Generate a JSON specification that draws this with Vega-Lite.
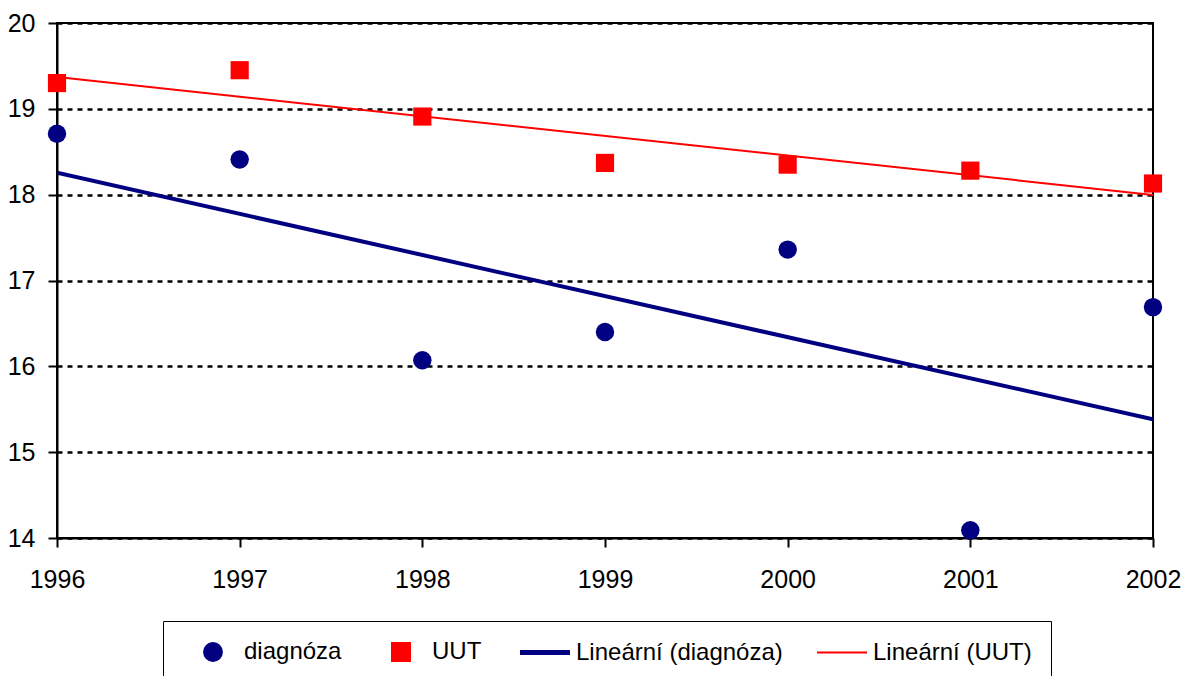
{
  "$schema": "https://vega.github.io/schema/vega-lite/v6.json",
  "width": 1096,
  "height": 515,
  "autosize": "none",
  "padding": {"left": 57, "top": 23, "right": 31, "bottom": 138},
  "background": "white",
  "config": {
    "view": {"stroke": "black", "strokeWidth": 2},
    "font": "Liberation Sans",
    "axis": {"labelFont": "Liberation Sans", "labelColor": "black"},
    "legend": {"labelFont": "Liberation Sans"}
  },
  "data": {
    "values": [
      {"year": 1996, "value": 18.71, "series": "diagnóza", "trend": "Lineární (diagnóza)"},
      {"year": 1997, "value": 18.41, "series": "diagnóza", "trend": "Lineární (diagnóza)"},
      {"year": 1998, "value": 16.07, "series": "diagnóza", "trend": "Lineární (diagnóza)"},
      {"year": 1999, "value": 16.40, "series": "diagnóza", "trend": "Lineární (diagnóza)"},
      {"year": 2000, "value": 17.36, "series": "diagnóza", "trend": "Lineární (diagnóza)"},
      {"year": 2001, "value": 14.09, "series": "diagnóza", "trend": "Lineární (diagnóza)"},
      {"year": 2002, "value": 16.69, "series": "diagnóza", "trend": "Lineární (diagnóza)"},
      {"year": 1996, "value": 19.30, "series": "UUT", "trend": "Lineární (UUT)"},
      {"year": 1997, "value": 19.45, "series": "UUT", "trend": "Lineární (UUT)"},
      {"year": 1998, "value": 18.91, "series": "UUT", "trend": "Lineární (UUT)"},
      {"year": 1999, "value": 18.37, "series": "UUT", "trend": "Lineární (UUT)"},
      {"year": 2000, "value": 18.35, "series": "UUT", "trend": "Lineární (UUT)"},
      {"year": 2001, "value": 18.28, "series": "UUT", "trend": "Lineární (UUT)"},
      {"year": 2002, "value": 18.13, "series": "UUT", "trend": "Lineární (UUT)"}
    ]
  },
  "encoding": {
    "x": {
      "field": "year", "type": "quantitative",
      "scale": {"domain": [1996, 2002], "nice": false, "zero": false},
      "axis": {
        "title": null, "values": [1996, 1997, 1998, 1999, 2000, 2001, 2002], "format": "d",
        "grid": false, "tickSize": 9, "tickWidth": 2, "tickColor": "black",
        "domainColor": "black", "domainWidth": 2, "labelFontSize": 25, "labelPadding": 20,
        "labelFlush": false
      }
    },
    "y": {
      "field": "value", "type": "quantitative",
      "scale": {"domain": [14, 20], "nice": false, "zero": false},
      "axis": {
        "title": null, "values": [14, 15, 16, 17, 18, 19, 20],
        "grid": true, "gridColor": "black", "gridDash": [5, 5], "gridWidth": 2.5, "gridOpacity": 1,
        "tickSize": 9, "tickWidth": 2, "tickColor": "black",
        "domainColor": "black", "domainWidth": 2, "labelFontSize": 25, "labelPadding": 13
      }
    },
    "color": {
      "field": "series", "type": "nominal",
      "scale": {
        "domain": ["diagnóza", "UUT", "Lineární (diagnóza)", "Lineární (UUT)"],
        "range": ["#000080", "#FF0000", "#000080", "#FF0000"]
      },
      "legend": {
        "orient": "none", "legendX": 106, "legendY": 598, "direction": "horizontal",
        "title": null, "strokeColor": "black", "padding": 19, "labelFontSize": 24,
        "labelColor": "black", "labelLimit": 400, "symbolSize": 300, "symbolOffset": 19,
        "columnPadding": 28, "labelOffset": 19,
        "encode": {
          "symbols": {
            "update": {
              "shape": {"signal": "datum.value == 'diagnóza' ? 'circle' : datum.value == 'UUT' ? 'square' : 'stroke'"},
              "size": {"signal": "datum.value == 'diagnóza' ? 320 : datum.value == 'UUT' ? 324 : 2500"},
              "fill": {"signal": "datum.value == 'diagnóza' ? '#000080' : datum.value == 'UUT' ? '#FF0000' : 'transparent'"},
              "stroke": {"signal": "datum.value == 'Lineární (diagnóza)' ? '#000080' : datum.value == 'Lineární (UUT)' ? '#FF0000' : 'transparent'"},
              "strokeWidth": {"signal": "datum.value == 'Lineární (diagnóza)' ? 5 : 2"},
              "opacity": {"value": 1}
            }
          }
        }
      }
    }
  },
  "layer": [
    {
      "transform": [
        {"filter": "datum.series == 'diagnóza'"},
        {"regression": "value", "on": "year", "extent": [1996, 2002], "groupby": ["trend"]}
      ],
      "mark": {"type": "line", "strokeWidth": 4, "clip": true},
      "encoding": {"color": {"field": "trend", "type": "nominal"}}
    },
    {
      "transform": [
        {"filter": "datum.series == 'UUT'"},
        {"regression": "value", "on": "year", "extent": [1996, 2002], "groupby": ["trend"]}
      ],
      "mark": {"type": "line", "strokeWidth": 2, "clip": true},
      "encoding": {"color": {"field": "trend", "type": "nominal"}}
    },
    {
      "transform": [{"filter": "datum.series == 'diagnóza'"}],
      "mark": {"type": "point", "shape": "circle", "filled": true, "size": 340, "opacity": 1}
    },
    {
      "transform": [{"filter": "datum.series == 'UUT'"}],
      "mark": {"type": "point", "shape": "square", "filled": true, "size": 330, "opacity": 1}
    }
  ]
}
